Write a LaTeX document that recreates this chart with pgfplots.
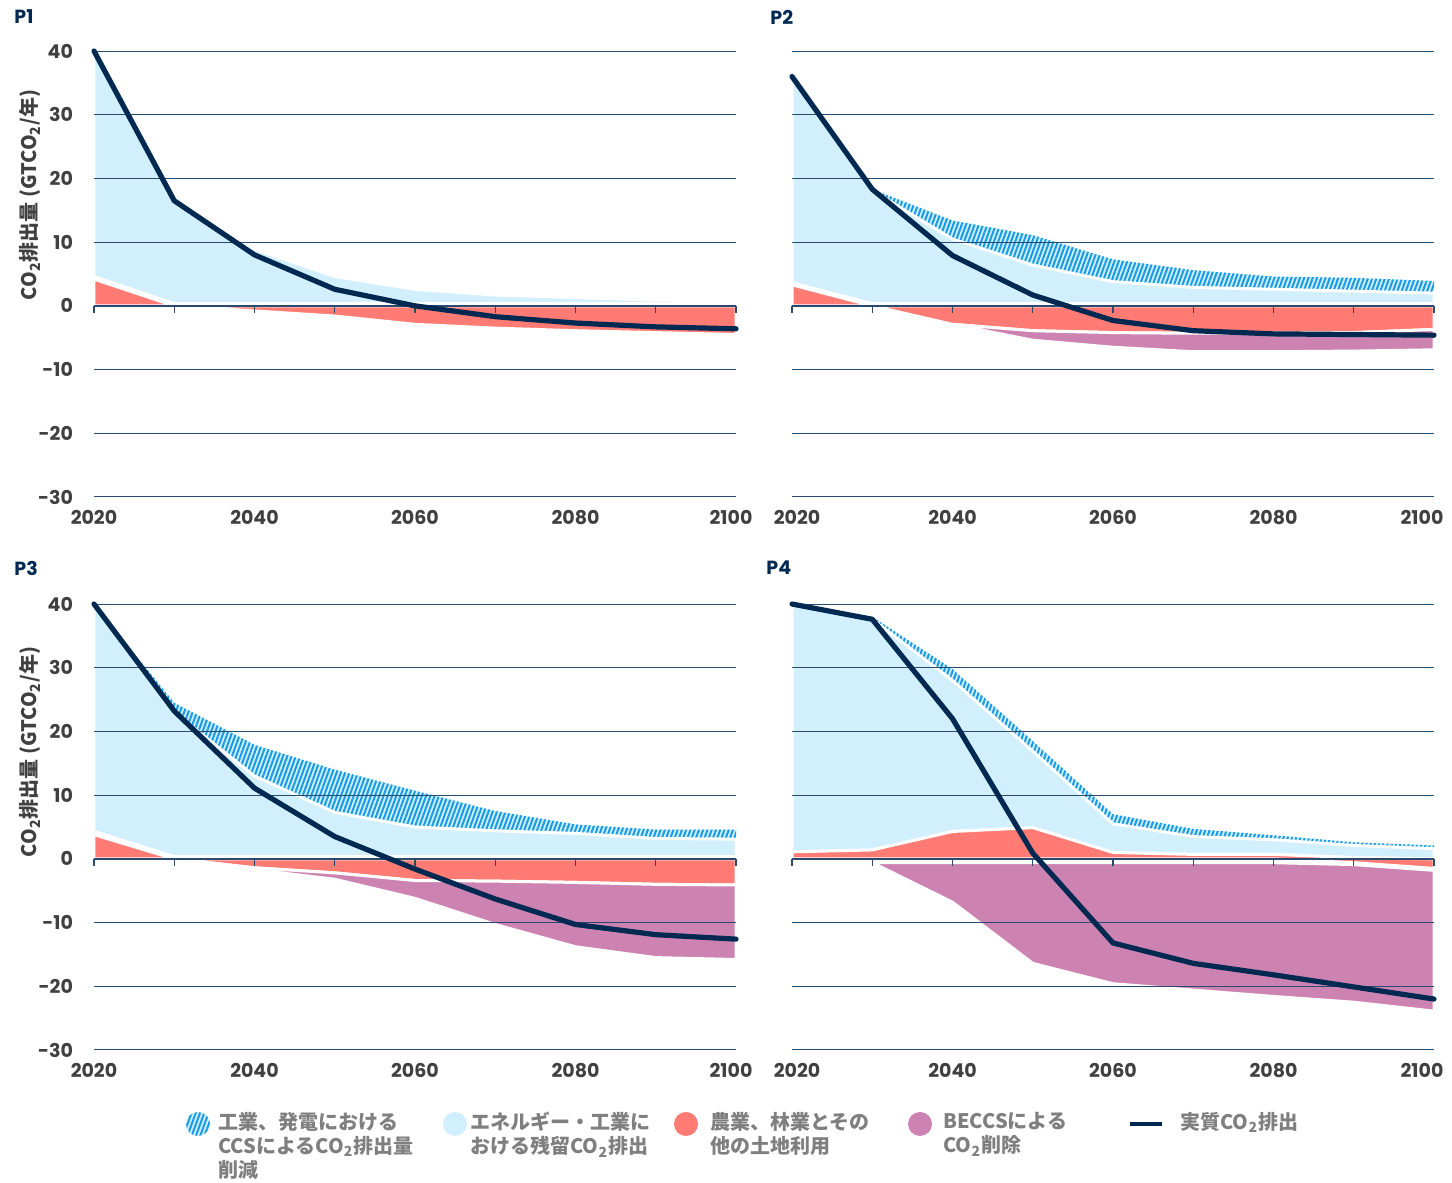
\documentclass[border=0pt]{standalone}
\usepackage{fontspec}
\setmainfont{Poppins}
\newfontfamily\jp{Noto Sans CJK JP}
\usepackage{pgfplots}
\pgfplotsset{compat=1.18}
\usetikzlibrary{patterns.meta}
\definecolor{lb}{RGB}{209,239,252}
\definecolor{hb}{RGB}{24,154,228}
\definecolor{rd}{RGB}{255,123,116}
\definecolor{pu}{RGB}{205,131,177}
\definecolor{nv}{RGB}{0,41,82}
\definecolor{gridc}{RGB}{43,74,111}
\definecolor{tickgray}{RGB}{64,64,64}
\definecolor{leggray}{RGB}{127,127,127}
\pgfplotsset{
  panel/.style={scale only axis, width=321pt, height=223pt, anchor=south west,
    xmin=2020, xmax=2100, ymin=-30, ymax=40, clip=false, no markers,
    axis line style={draw=none}, tick style={draw=none},
    xtick={2020,2040,2060,2080,2100},
    ytick={-30,-20,-10,0,10,20,30,40}, yticklabels={-30,-20,-10,0,10,20,30,40},
    ticklabel style={font=\bfseries\fontsize{9.5}{11}\selectfont, text=tickgray},
    xticklabel style={yshift=-3pt}, yticklabel style={xshift=-7pt}},
  hatchst/.style={draw=none, fill=lb, postaction={pattern={Lines[angle=70,distance=2pt,line width=1pt]}, pattern color=hb}},
  lbst/.style={fill=lb, draw=white, line width=1.5pt},
  rdst/.style={fill=rd, draw=white, line width=1.5pt},
  pust/.style={fill=pu, draw=white, line width=1.5pt},
  netst/.style={nv, line width=2.6pt, line cap=round, line join=round},
}
\newcommand{\deco}{%
  \pgfplotsinvokeforeach{40,30,20,10,-10,-20,-30}{\draw[gridc,line width=0.5pt] (axis cs:2020,##1) -- (axis cs:2100,##1);}
  \draw[gridc,line width=0.9pt] (axis cs:2020,0) -- (axis cs:2100,0);
  \pgfplotsinvokeforeach{2020,2030,2040,2050,2060,2070,2080,2090,2100}{\draw[gridc,line width=0.7pt] (axis cs:##1,0) -- (axis cs:##1,-1.1);}
}
\begin{document}
\begin{tikzpicture}
\useasboundingbox (0,0) rectangle (726pt,591.5pt);
% ---------------- P1
\begin{axis}[panel, at={(47pt,343pt)}, xticklabels={2020,2040,2060,2080,\hspace*{-5pt}2100}]
\addplot[lbst] coordinates {(2020,40)(2030,16.6)(2040,8.9)(2050,4.6)(2060,2.6)(2070,1.7)(2080,1.3)(2090,0.9)(2100,0.8)
  (2100,0.35)(2090,0.35)(2080,0.35)(2070,0.35)(2060,0.35)(2050,0.35)(2040,0.35)(2030,0.35)(2020,4.6)} -- cycle;
\addplot[rdst] coordinates {(2020,4.2)(2030,0)(2040,-0.8)(2050,-1.6)(2060,-2.9)(2070,-3.5)(2080,-3.9)(2090,-4.2)(2100,-4.5)(2100,0)(2020,0)} -- cycle;
\deco
\addplot[netst] coordinates {(2020,40)(2030,16.5)(2040,8.0)(2050,2.6)(2060,0.0)(2070,-1.7)(2080,-2.7)(2090,-3.3)(2100,-3.6)};
\end{axis}
% ---------------- P2
\begin{axis}[panel, at={(396pt,343pt)}, ytick=\empty, xticklabels={2020\hspace*{-5pt},2040,2060,2080,\hspace*{-12pt}2100}]
\addplot[hatchst] coordinates {(2030,18.3)(2040,13.4)(2050,11.1)(2060,7.3)(2070,5.6)(2080,4.6)(2090,4.4)(2100,3.9)
  (2100,2.0)(2090,2.3)(2080,2.6)(2070,2.9)(2060,3.8)(2050,6.4)(2040,10.5)(2030,18.1)} -- cycle;
\addplot[lbst] coordinates {(2020,36)(2030,18.1)(2040,10.5)(2050,6.4)(2060,3.8)(2070,2.9)(2080,2.6)(2090,2.3)(2100,2.0)
  (2100,0.35)(2090,0.35)(2080,0.35)(2070,0.35)(2060,0.35)(2050,0.35)(2040,0.35)(2030,0.35)(2020,3.6)} -- cycle;
\addplot[rdst] coordinates {(2020,3.3)(2030,0)(2040,-2.9)(2050,-3.9)(2060,-4.2)(2070,-4.3)(2080,-4.3)(2090,-4.2)(2100,-3.7)(2100,0)(2020,0)} -- cycle;
\addplot[pust] coordinates {(2040,-2.9)(2050,-3.9)(2060,-4.2)(2070,-4.3)(2080,-4.3)(2090,-4.2)(2100,-3.7)
  (2100,-6.9)(2090,-7.1)(2080,-7.2)(2070,-7.2)(2060,-6.5)(2050,-5.4)} -- cycle;
\deco
\addplot[netst] coordinates {(2020,36)(2030,18.3)(2040,7.9)(2050,1.7)(2060,-2.3)(2070,-3.9)(2080,-4.4)(2090,-4.5)(2100,-4.6)};
\end{axis}
% ---------------- P3
\begin{axis}[panel, at={(47pt,66.5pt)}, xticklabels={2020,2040,2060,2080,\hspace*{-5pt}2100}]
\addplot[hatchst] coordinates {(2020,40)(2030,24.5)(2040,17.9)(2050,14.0)(2060,10.7)(2070,7.5)(2080,5.4)(2090,4.6)(2100,4.6)
  (2100,3.1)(2090,3.2)(2080,4.0)(2070,4.4)(2060,5.0)(2050,7.3)(2040,13.0)(2030,23.0)} -- cycle;
\addplot[lbst] coordinates {(2020,40)(2030,23.0)(2040,13.0)(2050,7.3)(2060,5.0)(2070,4.4)(2080,4.0)(2090,3.2)(2100,3.1)
  (2100,0.35)(2090,0.35)(2080,0.35)(2070,0.35)(2060,0.35)(2050,0.35)(2040,0.35)(2030,0.35)(2020,4.3)} -- cycle;
\addplot[rdst] coordinates {(2020,3.8)(2030,0)(2040,-1.4)(2050,-2.2)(2060,-3.4)(2070,-3.5)(2080,-3.7)(2090,-4.0)(2100,-4.1)(2100,0)(2020,0)} -- cycle;
\addplot[pust] coordinates {(2030,0)(2040,-1.4)(2050,-2.2)(2060,-3.4)(2070,-3.5)(2080,-3.7)(2090,-4.0)(2100,-4.1)
  (2100,-15.8)(2090,-15.5)(2080,-13.8)(2070,-10.3)(2060,-6.2)(2050,-3.2)(2040,-1.7)} -- cycle;
\deco
\addplot[netst] coordinates {(2020,40)(2030,23.2)(2040,11.1)(2050,3.5)(2060,-1.6)(2070,-6.3)(2080,-10.3)(2090,-11.9)(2100,-12.6)};
\end{axis}
% ---------------- P4
\begin{axis}[panel, at={(396pt,66.5pt)}, ytick=\empty, xticklabels={2020\hspace*{-5pt},2040,2060,2080,\hspace*{-12pt}2100}]
\addplot[hatchst] coordinates {(2020,40)(2030,38.0)(2040,29.8)(2050,18.5)(2060,7.0)(2070,4.7)(2080,3.7)(2090,2.6)(2100,2.1)
  (2100,1.6)(2090,2.1)(2080,3.0)(2070,3.5)(2060,5.5)(2050,16.9)(2040,28.0)(2030,37.6)} -- cycle;
\addplot[lbst] coordinates {(2020,40)(2030,37.6)(2040,28.0)(2050,16.9)(2060,5.5)(2070,3.5)(2080,3.0)(2090,2.1)(2100,1.6)
  (2100,0.0)(2090,0.2)(2080,0.7)(2070,0.7)(2060,1.0)(2050,4.9)(2040,4.3)(2030,1.4)(2020,1.1)} -- cycle;
\addplot[rdst] coordinates {(2020,1.1)(2030,1.4)(2040,4.3)(2050,4.9)(2060,1.0)(2070,0.7)(2080,0.7)(2090,0.2)(2100,0.0)
  (2100,-1.5)(2090,-0.6)(2080,0)(2020,0)} -- cycle;
\addplot[pust] coordinates {(2030,-0.6)(2040,-0.6)(2050,-0.6)(2060,-0.6)(2070,-0.6)(2080,-0.6)(2090,-0.9)(2100,-1.8)
  (2100,-23.9)(2090,-22.5)(2080,-21.6)(2070,-20.6)(2060,-19.6)(2050,-16.4)(2040,-6.8)} -- cycle;
\deco
\addplot[netst] coordinates {(2020,40)(2030,37.6)(2040,22.0)(2050,0.9)(2060,-13.2)(2070,-16.4)(2080,-18.2)(2090,-20.1)(2100,-22.0)};
\end{axis}
% ---------------- titles and labels
\node[anchor=west, inner sep=0, text=nv, font=\bfseries\fontsize{9.5}{11}\selectfont] at (7pt,583pt) {P1};
\node[anchor=west, inner sep=0, text=nv, font=\bfseries\fontsize{9.5}{11}\selectfont] at (385pt,583pt) {P2};
\node[anchor=west, inner sep=0, text=nv, font=\bfseries\fontsize{9.5}{11}\selectfont] at (7pt,307.5pt) {P3};
\node[anchor=west, inner sep=0, text=nv, font=\bfseries\fontsize{9.5}{11}\selectfont] at (383pt,307.5pt) {P4};
\node[rotate=90, inner sep=0, text=tickgray, font=\jp\bfseries\fontsize{10}{12}\selectfont] at (15pt,494pt) {CO\textsubscript{2}排出量 (GTCO\textsubscript{2}/年)};
\node[rotate=90, inner sep=0, text=tickgray, font=\jp\bfseries\fontsize{10}{12}\selectfont] at (15pt,215.5pt) {CO\textsubscript{2}排出量 (GTCO\textsubscript{2}/年)};
% ---------------- legend
\fill[lb] (99pt,29.5pt) circle (6pt);
\fill[pattern={Lines[angle=70,distance=2pt,line width=1pt]}, pattern color=hb] (99pt,29.5pt) circle (6pt);
\node[anchor=north west, inner sep=0, align=left, text=leggray, font=\jp\bfseries\fontsize{10}{12}\selectfont] at (109pt,35.5pt) {工業、発電における\\CCSによるCO\textsubscript{2}排出量\\削減};
\fill[lb] (227.5pt,29.5pt) circle (6pt);
\node[anchor=north west, inner sep=0, align=left, text=leggray, font=\jp\bfseries\fontsize{10}{12}\selectfont] at (235pt,35.5pt) {エネルギー・工業に\\おける残留CO\textsubscript{2}排出};
\fill[rd] (343pt,29.5pt) circle (6pt);
\node[anchor=north west, inner sep=0, align=left, text=leggray, font=\jp\bfseries\fontsize{10}{12}\selectfont] at (355pt,35.5pt) {農業、林業とその\\他の土地利用};
\fill[pu] (460pt,29.5pt) circle (6pt);
\node[anchor=north west, inner sep=0, align=left, text=leggray, font=\jp\bfseries\fontsize{10}{12}\selectfont] at (471.5pt,35.5pt) {BECCSによる\\CO\textsubscript{2}削除};
\draw[nv, line width=2pt] (565pt,29.5pt) -- (581pt,29.5pt);
\node[anchor=north west, inner sep=0, align=left, text=leggray, font=\jp\bfseries\fontsize{10}{12}\selectfont] at (590pt,35.5pt) {実質CO\textsubscript{2}排出};
\end{tikzpicture}
\end{document}
